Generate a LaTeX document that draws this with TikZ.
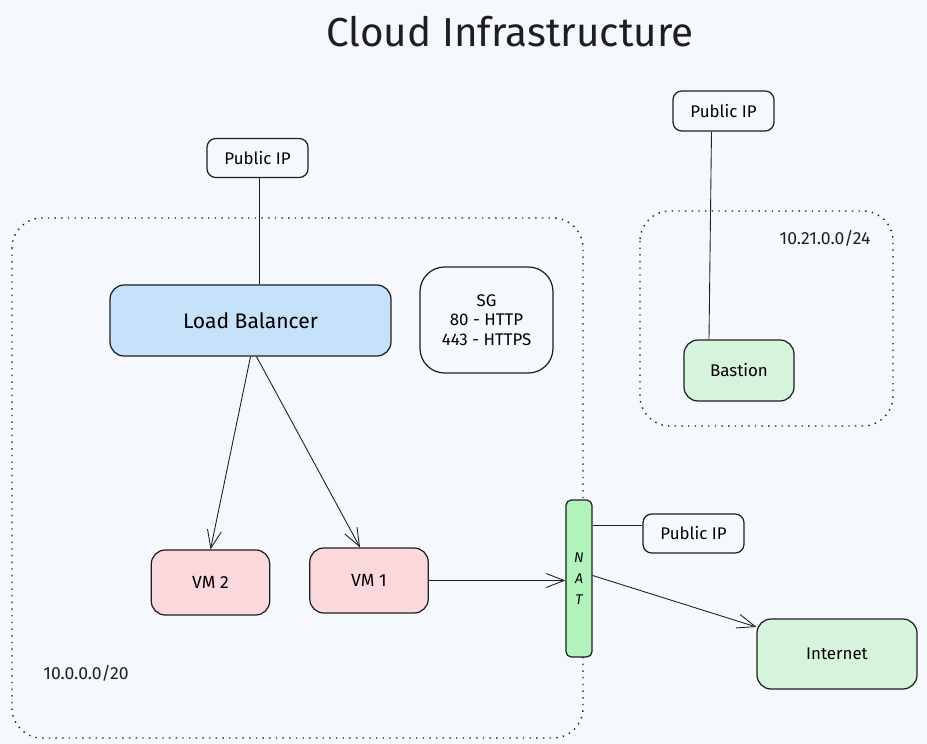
\documentclass[tikz,border=0pt]{standalone}
\usepackage{fontspec}
\setmainfont{Fira Sans}
\usetikzlibrary{positioning,arrows.meta,calc}
\definecolor{cloudink}{HTML}{1E1E1E}
\definecolor{cloudbg}{HTML}{F5F9FE}
\definecolor{cloudblue}{HTML}{C6E1FA}
\definecolor{cloudred}{HTML}{FAD8DB}
\definecolor{cloudgreen}{HTML}{B2F2BB}
\definecolor{cloudmint}{HTML}{D6F3DC}
\tikzset{
    box/.style={draw=cloudink,line width=0.7pt,rounded corners=8pt,inner sep=2pt,align=center,font=\fontsize{9.6}{11.2}\selectfont},
    ipbox/.style={box,rounded corners=5pt,minimum width=2.02cm,minimum height=0.78cm},
    lbbox/.style={box,fill=cloudblue,minimum width=5.62cm,minimum height=1.42cm,font=\fontsize{12}{14}\selectfont},
    sgbox/.style={box,rounded corners=14pt,minimum width=2.66cm,minimum height=2.12cm},
    vmbox/.style={box,fill=cloudred,minimum width=2.37cm,minimum height=1.3cm,font=\fontsize{10}{12}\selectfont},
    natbox/.style={box,fill=cloudgreen,rounded corners=3pt,minimum width=0.52cm,minimum height=3.14cm,inner sep=0pt,font=\fontsize{8}{12}\selectfont\itshape},
    hostbox/.style={box,fill=cloudmint},
    link/.style={draw=cloudink,line width=0.5pt},
    flow/.style={link,-{Straight Barb[length=3.6mm,width=2.8mm]}},
    subnet/.style={draw=cloudink,line width=0.8pt,dash pattern=on 0.8pt off 3pt,rounded corners=17pt},
    cidr/.style={font=\fontsize{10}{12}\selectfont,text=cloudink},
}

\begin{document}
\begin{tikzpicture}[x=0.02cm,y=-0.02cm]
    \fill[cloudbg] (0,0) rectangle (927,744);
    \useasboundingbox (0,0) rectangle (927,744);
    \node[font=\fontsize{23}{27}\selectfont,text=cloudink] (title) at (510,32) {Cloud Infrastructure};
    \draw[subnet] (12,218) rectangle (583,738);
    \draw[subnet] (640,211) rectangle (893,426);
    \node[cidr] (vpcnet) at (86,673) {10.0.0.0/20};
    \node[cidr] (bastnet) at (825,238) {10.21.0.0/24};
    \node[ipbox] (lbip) at (257.5,158) {Public IP};
    \node[lbbox] (lb) at (250.5,320.5) {Load Balancer};
    \node[sgbox] (sg) at (486.5,320) {SG\\80 - HTTP\\443 - HTTPS};
    \node[vmbox] (vm2) at (210.5,582.5) {VM 2};
    \node[vmbox] (vm1) at (369,580.5) {VM 1};
    \node[natbox] (nat) at (579,578.5) {N\\A\\T};
    \node[ipbox] (natip) at (693.5,533.5) {Public IP};
    \node[hostbox,minimum width=3.2cm,minimum height=1.4cm] (inet) at (837,654) {Internet};
    \node[ipbox,minimum height=0.8cm] (bastip) at (723.5,111) {Public IP};
    \node[hostbox,minimum width=2.2cm,minimum height=1.22cm] (bastion) at (739,370.5) {Bastion};
    \draw[link] ($(lbip.south)+(1.5,0)$) -- ($(lbip.south |- lb.north)+(1.5,0)$);
    \draw[flow] (lb.south) -- (vm2.north);
    \draw[flow] ($(lb.south)+(6,0)$) -- ($(vm1.north)+(-9,0)$);
    \draw[flow] (vm1.east) -- (vm1.east -| nat.west);
    \draw[link] ($(natip.west)+(0,-8)$) -- ($(natip.west -| nat.east)+(0,-8)$);
    \draw[flow] ($(nat.east)+(0,-3)$) -- ($(inet.west)+(0,-27)$);
    \draw[link] ($(bastip.south)+(-12,0)$) -- ($(bastion.north)+(-30,0)$);
\end{tikzpicture}
\end{document}
